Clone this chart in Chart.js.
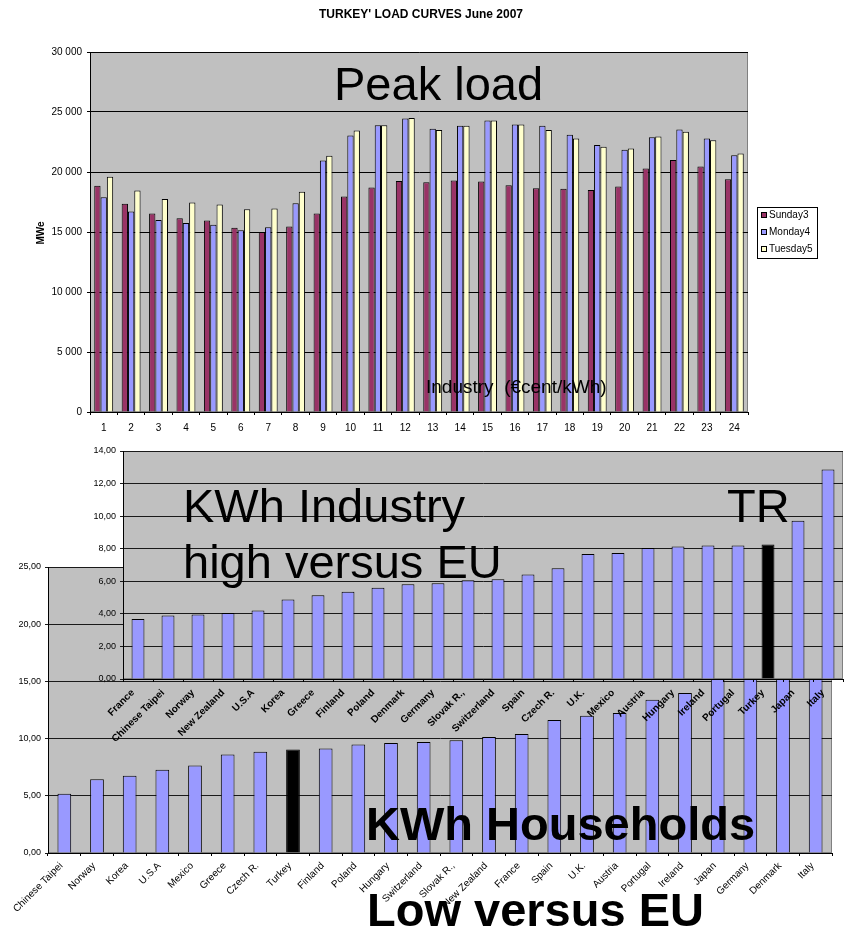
<!DOCTYPE html>
<html>
<head>
<meta charset="utf-8">
<script src="https://cdn.jsdelivr.net/npm/chart.js@4.4.1/dist/chart.umd.min.js"></script>
<style>
  body { margin: 0; background: #fff; }
  #wrap { position: relative; width: 847px; height: 928px; overflow: hidden; }
  canvas { position: absolute; left: 0; }
</style>
</head>
<body>
<div id="wrap">
  <canvas id="load" width="847" height="440" style="top:0;z-index:1"></canvas>
  <canvas id="households" width="847" height="388" style="top:540px;z-index:2"></canvas>
  <canvas id="industry" width="847" height="390" style="top:370px;z-index:3"></canvas>
</div>
<script>
// load curves, MWe per hour
const hours = ['1','2','3','4','5','6','7','8','9','10','11','12','13','14','15','16','17','18','19','20','21','22','23','24'];
const sunday3 = [18850, 17350, 16550, 16150, 15950, 15350, 15000, 15450, 16550, 17950, 18700, 19250, 19150, 19300, 19200, 18900, 18650, 18600, 18500, 18800, 20300, 21000, 20450, 19400];
const monday4 = [17900, 16700, 16000, 15750, 15600, 15150, 15400, 17400, 20950, 23050, 23900, 24450, 23600, 23850, 24300, 23950, 23850, 23100, 22250, 21850, 22900, 23550, 22800, 21400];
const tuesday5 = [19600, 18450, 17750, 17450, 17300, 16900, 16950, 18350, 21350, 23450, 23900, 24500, 23500, 23850, 24300, 23950, 23500, 22800, 22100, 21950, 22950, 23350, 22650, 21550];
const loadTicks = [0, 5000, 10000, 15000, 20000, 25000, 30000];

// industry price, €cent/kWh
const industryCountries = ['France', 'Chinese Taipei', 'Norway', 'New Zealand', 'U.S.A', 'Korea', 'Greece', 'Finland', 'Poland', 'Denmark', 'Germany', 'Slovak R.,', 'Switzerland', 'Spain', 'Czech R.', 'U.K.', 'Mexico', 'Austria', 'Hungary', 'Ireland', 'Portugal', 'Turkey', 'Japan', 'Italy'];
const industryPrices = [3.69, 3.90, 3.96, 4.06, 4.20, 4.88, 5.14, 5.35, 5.61, 5.82, 5.88, 6.06, 6.12, 6.42, 6.80, 7.67, 7.73, 8.04, 8.14, 8.20, 8.20, 8.26, 9.71, 12.86];
const industryTicks = [0, 2, 4, 6, 8, 10, 12, 14];

// households price (last four are hidden behind the industry chart)
const householdCountries = ['Chinese Taipei', 'Norway', 'Korea', 'U.S.A', 'Mexico', 'Greece', 'Czech R.', 'Turkey', 'Finland', 'Poland', 'Hungary', 'Switzerland', 'Slovak R.,', 'New Zealand', 'France', 'Spain', 'U.K.', 'Austria', 'Portugal', 'Ireland', 'Japan', 'Germany', 'Denmark', 'Italy'];
const householdPrices = [5.18, 6.45, 6.75, 7.27, 7.65, 8.61, 8.84, 9.04, 9.13, 9.48, 9.62, 9.71, 9.85, 10.15, 10.41, 11.63, 12.00, 12.24, 13.40, 13.98, 15.4, 16.8, 19.0, 20.5];
const householdTicks = [0, 5, 10, 15, 20, 25];

const FONT = 'Arial, "Liberation Sans", sans-serif';
Chart.defaults.font.family = FONT;
Chart.defaults.color = '#000';
Chart.defaults.animation = false;

const plotBg = {
  id: 'plotBg',
  beforeDraw(chart) {
    const { ctx, chartArea: a } = chart;
    ctx.save();
    ctx.fillStyle = '#C0C0C0';
    ctx.fillRect(a.left, a.top, a.width, a.height);
    ctx.strokeStyle = '#808080';
    ctx.lineWidth = 1;
    ctx.strokeRect(Math.round(a.left) + 0.5, Math.round(a.top) + 0.5, Math.round(a.width) - 1, Math.round(a.height) - 1);
    ctx.restore();
  }
};

const texts = (items) => ({
  id: 'texts',
  afterDatasetsDraw(chart) {
    const ctx = chart.ctx;
    ctx.save();
    ctx.fillStyle = '#000';
    items.forEach(t => {
      ctx.font = t.font;
      ctx.textAlign = t.align || 'left';
      ctx.textBaseline = 'alphabetic';
      if (t.rotate) {
        ctx.save();
        ctx.translate(t.x, t.y);
        ctx.rotate(t.rotate);
        ctx.fillText(t.text, 0, 0);
        ctx.restore();
      } else {
        ctx.fillText(t.text, t.x, t.y);
      }
    });
    ctx.restore();
  }
});

const legendBox = {
  id: 'legendBox',
  afterDraw(chart) {
    const ctx = chart.ctx;
    ctx.save();
    ctx.fillStyle = '#fff';
    ctx.fillRect(757, 207, 60, 51);
    ctx.strokeStyle = '#000';
    ctx.lineWidth = 1;
    ctx.strokeRect(757.5, 207.5, 60, 51);
    ctx.font = '10px ' + FONT;
    ctx.textBaseline = 'middle';
    chart.data.datasets.forEach((ds, i) => {
      const y = 215 + i * 17;
      ctx.fillStyle = ds.backgroundColor;
      ctx.fillRect(761, y - 3, 6, 6);
      ctx.strokeRect(761.5, y - 2.5, 5, 5);
      ctx.fillStyle = '#000';
      ctx.fillText(ds.label, 769, y + 0.5);
    });
    ctx.restore();
  }
};

const spaced = (v) => String(v).replace(/\B(?=(\d{3})+(?!\d))/g, ' ');
const comma = (v) => Number(v).toFixed(2).replace('.', ',');
const turkeyBlack = (names) => names.map(n => n === 'Turkey' ? '#000000' : '#9999FF');

new Chart(document.getElementById('load'), {
  type: 'bar',
  data: {
    labels: hours,
    datasets: [
      { label: 'Sunday3', data: sunday3, backgroundColor: '#993366', borderColor: '#000', borderWidth: 1 },
      { label: 'Monday4', data: monday4, backgroundColor: '#9999FF', borderColor: '#000', borderWidth: 1 },
      { label: 'Tuesday5', data: tuesday5, backgroundColor: '#FFFFCC', borderColor: '#000', borderWidth: 1 }
    ]
  },
  options: {
    responsive: false,
    layout: { padding: { left: 0, top: 52, right: 99, bottom: 0 } },
    datasets: { bar: { categoryPercentage: 0.69, barPercentage: 1 } },
    plugins: { legend: { display: false }, title: { display: false }, tooltip: { enabled: false } },
    scales: {
      x: {
        afterFit: (s) => { s.height = 28; },
        grid: { drawOnChartArea: false, tickLength: 3, color: '#000' },
        border: { color: '#000' },
        ticks: { autoSkip: false, maxRotation: 0, padding: 7, font: { size: 10 } }
      },
      y: {
        min: 0, max: 30000,
        afterFit: (s) => { s.width = 90; },
        afterBuildTicks: (s) => { s.ticks = loadTicks.map(v => ({ value: v })); },
        grid: { color: '#000', tickLength: 3 },
        border: { color: '#000' },
        ticks: { padding: 5, font: { size: 10 }, callback: spaced }
      }
    }
  },
  plugins: [plotBg, legendBox, texts([
    { text: "TURKEY' LOAD CURVES June 2007", x: 421, y: 18, align: 'center', font: 'bold 12px ' + FONT },
    { text: 'MWe', x: 44, y: 233, align: 'center', rotate: -Math.PI / 2, font: 'bold 10px ' + FONT },
    { text: 'Peak load', x: 334, y: 100, font: '47px ' + FONT }
  ])]
});

new Chart(document.getElementById('industry'), {
  type: 'bar',
  data: {
    labels: industryCountries,
    datasets: [{ data: industryPrices, backgroundColor: turkeyBlack(industryCountries), borderColor: '#000', borderWidth: 1 }]
  },
  options: {
    responsive: false,
    layout: { padding: { left: 0, top: 81, right: 4, bottom: 0 } },
    datasets: { bar: { categoryPercentage: 1, barPercentage: 0.43 } },
    plugins: { legend: { display: false }, title: { display: false }, tooltip: { enabled: false } },
    scales: {
      x: {
        afterFit: (s) => { s.height = 81; },
        grid: { drawOnChartArea: false, tickLength: 3, color: '#000' },
        border: { color: '#000' },
        ticks: { autoSkip: false, minRotation: 45, maxRotation: 45, padding: 5, labelOffset: -5, font: { size: 10, weight: 'bold' } }
      },
      y: {
        min: 0, max: 14,
        afterFit: (s) => { s.width = 123; },
        afterBuildTicks: (s) => { s.ticks = industryTicks.map(v => ({ value: v })); },
        grid: { color: '#1a1a1a', tickLength: 3 },
        border: { color: '#000' },
        ticks: { padding: 4, font: { size: 9 }, callback: comma }
      }
    }
  },
  plugins: [plotBg, texts([
    { text: 'Industry  (\u20accent/kWh)', x: 426, y: 23, font: '19px ' + FONT },
    { text: 'KWh Industry', x: 183, y: 152, font: '47px ' + FONT },
    { text: 'high versus EU', x: 183, y: 208, font: '47px ' + FONT },
    { text: 'TR', x: 727, y: 152, font: '47px ' + FONT }
  ])]
});

new Chart(document.getElementById('households'), {
  type: 'bar',
  data: {
    labels: householdCountries,
    datasets: [{ data: householdPrices, backgroundColor: turkeyBlack(householdCountries), borderColor: '#000', borderWidth: 1 }]
  },
  options: {
    responsive: false,
    layout: { padding: { left: 0, top: 27, right: 15, bottom: 0 } },
    datasets: { bar: { categoryPercentage: 1, barPercentage: 0.42 } },
    plugins: { legend: { display: false }, title: { display: false }, tooltip: { enabled: false } },
    scales: {
      x: {
        afterFit: (s) => { s.height = 75; },
        grid: { drawOnChartArea: false, tickLength: 3, color: '#000' },
        border: { color: '#000' },
        ticks: { autoSkip: false, minRotation: 45, maxRotation: 45, padding: 4, labelOffset: -3, font: { size: 10 } }
      },
      y: {
        min: 0, max: 25,
        afterFit: (s) => { s.width = 48; },
        afterBuildTicks: (s) => { s.ticks = householdTicks.map(v => ({ value: v })); },
        grid: { color: '#1a1a1a', tickLength: 3 },
        border: { color: '#000' },
        ticks: { padding: 4, font: { size: 9 }, callback: comma }
      }
    }
  },
  plugins: [plotBg, texts([
    { text: 'KWh Households', x: 366, y: 300, font: 'bold 47px ' + FONT },
    { text: 'Low versus EU', x: 367, y: 386, font: 'bold 47px ' + FONT }
  ])]
});
</script>
</body>
</html>
